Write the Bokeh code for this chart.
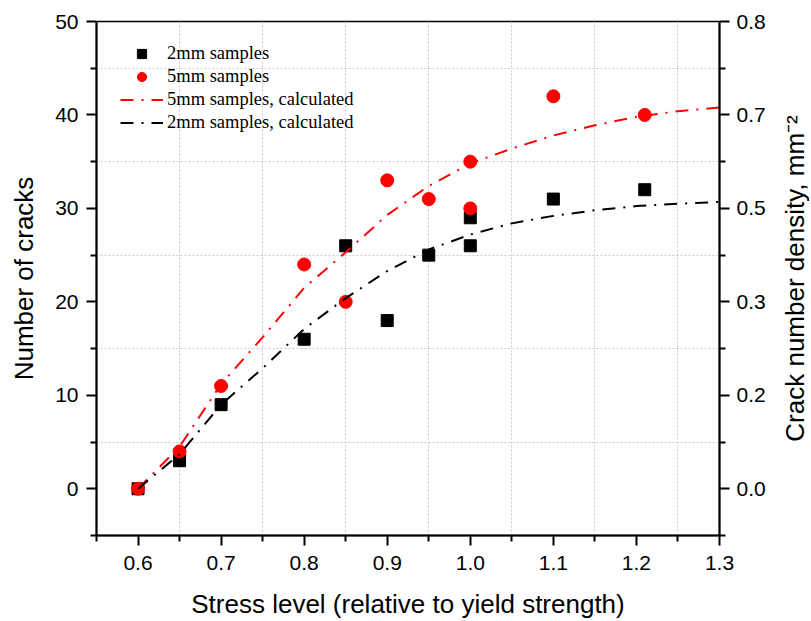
from bokeh.plotting import figure
from bokeh.layouts import row
from bokeh.models import LinearAxis, Range1d, FixedTicker, PrintfTickFormatter
from bokeh.embed import file_html
from bokeh.resources import INLINE

# ---- data ----
x_2mm = [0.6, 0.65, 0.7, 0.8, 0.85, 0.9, 0.95, 1.0, 1.0, 1.1, 1.21]
y_2mm = [0, 3, 9, 16, 26, 18, 25, 26, 29, 31, 32]
x_5mm = [0.6, 0.65, 0.7, 0.8, 0.85, 0.9, 0.95, 1.0, 1.0, 1.1, 1.21]
y_5mm = [0, 4, 11, 24, 20, 33, 31, 35, 30, 42, 40]

x_calc = [0.6, 0.65, 0.7, 0.75, 0.8, 0.85, 0.9, 0.95, 1.0, 1.05, 1.1, 1.15, 1.2, 1.25, 1.3]
y_5mm_calc = [0, 4.5, 11.2, 16.2, 21.5, 25.3, 29.3, 32.4, 34.8, 36.4, 37.8, 38.9, 39.8, 40.4, 40.8]
y_2mm_calc = [0, 3.7, 9.0, 12.9, 17.1, 20.4, 23.3, 25.6, 27.2, 28.4, 29.2, 29.8, 30.25, 30.5, 30.7]

x_ticks = [0.6, 0.7, 0.8, 0.9, 1.0, 1.1, 1.2, 1.3]
x_minor = [0.55, 0.65, 0.75, 0.85, 0.95, 1.05, 1.15, 1.25]
y_ticks = [0, 10, 20, 30, 40, 50]
y_minor = [-5, 5, 15, 25, 35, 45]
right_labels = ["0.0", "0.2", "0.3", "0.5", "0.7", "0.8"]

x_title = "Stress level (relative to yield strength)"
y_title = "Number of cracks"
y2_title = "Crack number density, mm\u207b\u00b2"

SANS = "Liberation Sans"
SERIF = "Liberation Serif"
H = 621
TOP, BOTTOM = 21, 86

p = figure(width=728, height=H,
           x_range=Range1d(0.55, 1.3), y_range=Range1d(-5, 50),
           output_backend="svg", toolbar_location=None,
           min_border_left=56, min_border_right=48,
           min_border_top=TOP, min_border_bottom=BOTTOM)

p.background_fill_color = "white"
p.border_fill_color = "white"
p.outline_line_color = "black"
p.outline_line_width = 1.5

# grids at minor positions, dotted
p.xgrid.ticker = FixedTicker(ticks=x_minor[1:])
p.ygrid.ticker = FixedTicker(ticks=y_minor[1:])
for g in (p.xgrid, p.ygrid):
    g.grid_line_color = "#c8c8c8"
    g.grid_line_dash = "2 2"
    g.grid_line_width = 1

def style_axis(ax):
    ax.axis_line_width = 2
    ax.axis_line_color = "black"
    ax.major_tick_in = 0
    ax.major_tick_out = 10
    ax.minor_tick_in = 0
    ax.minor_tick_out = 6
    ax.major_tick_line_width = 2
    ax.minor_tick_line_width = 2
    ax.major_tick_line_color = "black"
    ax.minor_tick_line_color = "black"
    ax.major_label_text_font = SANS
    ax.major_label_text_font_size = "21px"
    ax.major_label_text_color = "black"
    ax.axis_label_text_font = SANS
    ax.axis_label_text_font_size = "26px"
    ax.axis_label_text_font_style = "normal"
    ax.axis_label_text_color = "black"

xa = p.xaxis[0]
xa.ticker = FixedTicker(ticks=x_ticks, minor_ticks=x_minor)
xa.formatter = PrintfTickFormatter(format="%.1f")
xa.axis_label = x_title
style_axis(xa)
xa.major_label_standoff = 10
xa.axis_label_standoff = 16

ya = p.yaxis[0]
ya.ticker = FixedTicker(ticks=y_ticks, minor_ticks=y_minor)
style_axis(ya)
ya.major_label_standoff = 8

ra = LinearAxis(ticker=FixedTicker(ticks=y_ticks, minor_ticks=y_minor),
                major_label_overrides={t: l for t, l in zip(y_ticks, right_labels)})
style_axis(ra)
ra.major_label_standoff = 7
p.add_layout(ra, "right")

DASH = "13 8 2 8"
p.scatter(x_2mm, y_2mm, marker="square", size=12, color="black",
          legend_label="2mm samples")
p.scatter(x_5mm, y_5mm, marker="circle", size=13, color="#ff0000",
          legend_label="5mm samples")
p.line(x_calc, y_5mm_calc, line_color="#ff0000", line_width=2, line_dash=DASH,
       legend_label="5mm samples, calculated")
p.line(x_calc, y_2mm_calc, line_color="black", line_width=2, line_dash=DASH,
       legend_label="2mm samples, calculated")

lg = p.legend[0]
lg.location = (24, 401)
lg.margin = 0
lg.padding = 0
lg.spacing = 0
lg.glyph_width = 43
lg.glyph_height = 23
lg.label_height = 23
lg.label_standoff = 4
lg.label_text_font = SERIF
lg.label_text_font_size = "18.5px"
lg.label_text_color = "black"
lg.background_fill_alpha = 0
lg.border_line_alpha = 0


def title_strip(width, border_left, text):
    """A narrow, empty figure whose left-axis title reads bottom-to-top."""
    q = figure(width=width, height=H, x_range=Range1d(0, 1), y_range=Range1d(0, 1),
               output_backend="svg", toolbar_location=None,
               min_border_left=border_left, min_border_right=0,
               min_border_top=TOP, min_border_bottom=BOTTOM)
    q.outline_line_color = None
    q.grid.visible = False
    q.xaxis.visible = False
    ax = q.yaxis[0]
    ax.ticker = FixedTicker(ticks=[], minor_ticks=[])
    ax.axis_line_color = None
    ax.major_tick_out = 0
    ax.major_tick_in = 0
    ax.minor_tick_out = 0
    ax.minor_tick_in = 0
    ax.major_label_standoff = 0
    ax.axis_label = text
    ax.axis_label_standoff = 0
    ax.axis_label_text_font = SANS
    ax.axis_label_text_font_size = "26px"
    ax.axis_label_text_font_style = "normal"
    ax.axis_label_text_color = "black"
    return q


left_strip = title_strip(40, 38, y_title)
right_strip = title_strip(43, 41, y2_title)

layout = row(left_strip, p, right_strip)
open("out.html", "w").write(file_html(layout, INLINE))
